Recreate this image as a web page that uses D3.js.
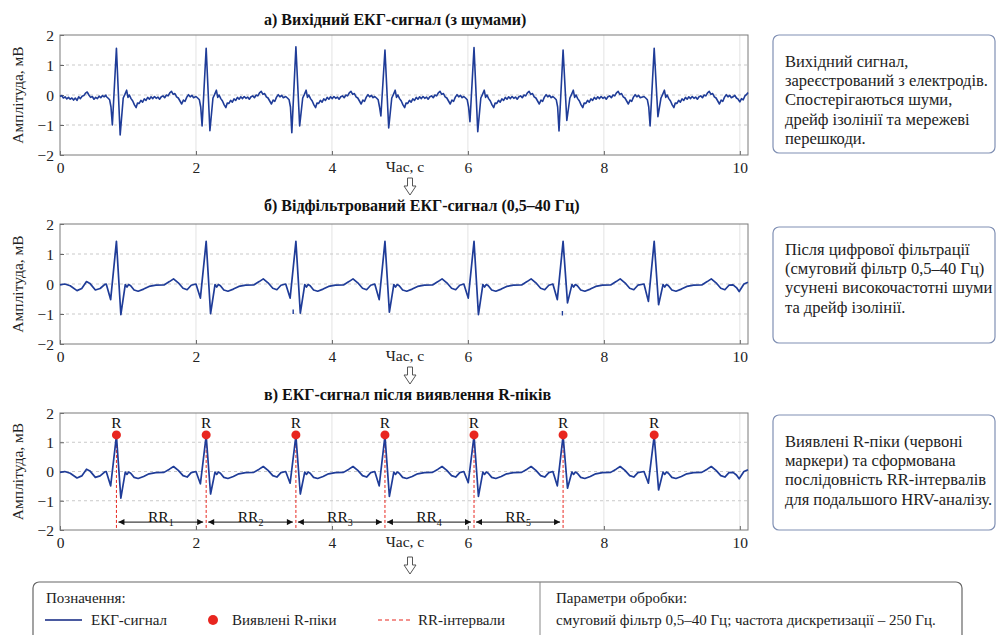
<!DOCTYPE html>
<html><head><meta charset="utf-8">
<script src="https://cdn.jsdelivr.net/npm/d3@7"></script>
<style>
html,body{margin:0;padding:0;background:#fff;}
svg{display:block;}
</style></head>
<body>
<svg id="chart" width="997" height="635"></svg>
<script>
// ---------------- DATA ----------------
const timeTicks = [0, 2, 4, 6, 8, 10];
const ampTicks = [-2, -1, 0, 1, 2];
const timeMax = 10.12;
const panelTitles = [
  "а) Вихідний ЕКГ-сигнал (з шумами)",
  "б) Відфільтрований ЕКГ-сигнал (0,5–40 Гц)",
  "в) ЕКГ-сигнал після виявлення R-піків"
];
const xLabel = "Час, с";
const yLabel = "Амплітуда, мВ";
const rPeakTimes = [0.83, 2.15, 3.47, 4.78, 6.09, 7.40, 8.74];

// raw (noisy) signal
const rawLead = [[0,-0.05],[0.025,-0.02],[0.05,-0.1],[0.075,-0.06],[0.1,-0.13],[0.125,-0.08],[0.15,-0.14],[0.175,-0.1],[0.2,-0.17],[0.225,-0.1],[0.25,-0.18],[0.275,-0.06],[0.3,-0.12],[0.325,-0.04],[0.35,-0.02],[0.375,0.06],[0.4,0.1],[0.425,0.0],[0.45,-0.08],[0.475,-0.05],[0.5,-0.14],[0.525,-0.08],[0.55,-0.12],[0.575,-0.04],[0.6,-0.09],[0.625,-0.02],[0.65,-0.06],[0.675,0.0]];
const rawBeat = [[-0.15,-0.05],[-0.125,-0.1],[-0.10,-0.16],[-0.08,-0.4],[-0.06,"Q"],[0,"R"],[0.055,"S"],[0.10,-0.1],[0.125,0.02],[0.15,0.16],[0.17,-0.08],[0.19,0.0],[0.215,-0.12],[0.24,-0.2],[0.265,-0.33],[0.29,-0.42],[0.31,-0.27],[0.335,-0.28],[0.36,-0.18],[0.385,-0.24],[0.41,-0.13],[0.435,-0.18],[0.46,-0.08],[0.485,-0.14],[0.51,-0.06],[0.535,-0.12],[0.56,-0.05],[0.585,-0.11],[0.61,-0.07],[0.635,-0.14],[0.66,-0.06],[0.685,-0.03],[0.71,-0.09],[0.735,0.0],[0.76,-0.03],[0.785,0.07],[0.81,0.12],[0.835,0.02],[0.86,0.05],[0.885,-0.06],[0.91,-0.1],[0.935,-0.2],[0.96,-0.3],[0.985,-0.17],[1.01,-0.21],[1.035,-0.07],[1.06,0.01],[1.085,-0.06],[1.11,-0.01],[1.135,-0.09]];
const rawTail = [[9.90,-0.06],[9.925,-0.01],[9.95,-0.1],[9.975,-0.14],[10.0,-0.23],[10.025,-0.12],[10.05,-0.16],[10.075,-0.03],[10.1,0.02],[10.12,0.08]];
const rawR = [1.56, 1.56, 1.61, 1.50, 1.58, 1.50, 1.56];
const rawQ = [-1.00, -1.03, -1.26, -0.70, -0.89, -1.20, -1.03];
const rawS = [-1.33, -1.19, -1.03, -1.10, -1.22, -0.85, -0.72];

// filtered signal
const filtLead = [[0,-0.03],[0.07,0.0],[0.15,-0.06],[0.25,-0.22],[0.32,-0.15],[0.39,0.08],[0.44,0.02],[0.52,-0.2],[0.59,-0.15],[0.66,-0.01]];
const filtBeat = [[-0.15,0.0],[-0.085,"Q"],[0,"R"],[0.065,"S"],[0.13,-0.02],[0.155,-0.1],[0.18,-0.02],[0.21,-0.06],[0.26,-0.2],[0.32,-0.24],[0.40,-0.17],[0.48,-0.08],[0.58,-0.04],[0.70,-0.03],[0.78,0.08],[0.84,0.17],[0.91,0.04],[0.98,-0.14],[1.04,-0.19],[1.10,-0.04]];
const filtTail = [[9.90,-0.03],[9.95,-0.12],[9.99,-0.25],[10.06,0.0],[10.12,0.06]];
const filtR = [1.42, 1.42, 1.42, 1.42, 1.42, 1.42, 1.42];
const filtQ = [-0.52, -0.47, -0.47, -0.52, -0.47, -0.52, -0.58];
const filtS = [-1.02, -0.99, -0.97, -0.94, -1.02, -0.63, -0.69];
const filtArtifacts = [[3.43, -0.85, -1.0], [7.39, -0.9, -1.05]];

// detected-peaks panel
const detR = [1.22, 1.22, 1.22, 1.22, 1.22, 1.22, 1.22];
const detQ = [-0.49, -0.42, -0.40, -0.49, -0.38, -0.49, -0.40];
const detS = [-0.91, -0.77, -0.77, -0.85, -0.85, -0.57, -0.63];
const markerAmp = [1.25, 1.25, 1.25, 1.25, 1.25, 1.25, 1.25];
const rrLabels = ["1", "2", "3", "4", "5"];
const rrArrowAmp = -1.73;
const rrLabelAmp = -1.55;

const boxTexts = [
  ["Вихідний сигнал,", "зареєстрований з електродів.", "Спостерігаються шуми,", "дрейф ізолінії та мережеві", "перешкоди."],
  ["Після цифрової фільтрації", "(смуговий фільтр 0,5–40 Гц)", "усунені високочастотні шуми", "та дрейф ізолінії."],
  ["Виявлені R-піки (червоні", "маркери) та сформована", "послідовність RR-інтервалів", "для подальшого HRV-аналізу."]
];
const legendTitle = "Позначення:";
const legendItems = ["ЕКГ-сигнал", "Виявлені R-піки", "RR-інтервали"];
const paramsTitle = "Параметри обробки:";
const paramsText = "смуговий фільтр 0,5–40 Гц; частота дискретизації – 250 Гц.";

// ---------------- STYLE / LAYOUT ----------------
const SERIF = "'Liberation Serif','Times New Roman',serif";
const lineColor = "#1f3c98";
const red = "#e8261f";
const plotLeft = 60, plotRight = 748;
const panels = [
  {top: 35, bottom: 155, titleY: 25, boxTop: 35, boxBottom: 153, textY0: 67, arrowY: 178},
  {top: 224, bottom: 344, titleY: 211, boxTop: 227, boxBottom: 343, textY0: 255, arrowY: 367},
  {top: 413, bottom: 530, titleY: 400, boxTop: 415, boxBottom: 530, textY0: 447, arrowY: 557}
];

function buildSignal(lead, beat, tail, beats) {
  const pts = lead.map(([t, v]) => ({t, v}));
  rPeakTimes.forEach((r, i) => {
    beat.forEach(([o, v]) => {
      pts.push({t: r + o, v: typeof v === "string" ? beats[v][i] : v});
    });
  });
  tail.forEach(([t, v]) => pts.push({t, v}));
  return pts;
}
const signals = [
  buildSignal(rawLead, rawBeat, rawTail, {Q: rawQ, R: rawR, S: rawS}),
  buildSignal(filtLead, filtBeat, filtTail, {Q: filtQ, R: filtR, S: filtS}),
  buildSignal(filtLead, filtBeat, filtTail, {Q: detQ, R: detR, S: detS})
];

const svg = d3.select("#chart");
const x = d3.scaleLinear().domain([0, timeMax]).range([plotLeft, plotRight]);

panels.forEach((p, pi) => {
  const y = d3.scaleLinear().domain([-2, 2]).range([p.bottom, p.top]);
  const g = svg.append("g");

  // grid
  g.selectAll(".vg").data(timeTicks.filter(d => d > 0)).join("line")
    .attr("x1", d => x(d)).attr("x2", d => x(d)).attr("y1", p.top).attr("y2", p.bottom)
    .attr("stroke", "#e3e3e3").attr("stroke-width", 1);
  g.selectAll(".hg").data([-1, 0, 1]).join("line")
    .attr("x1", plotLeft).attr("x2", plotRight).attr("y1", d => y(d)).attr("y2", d => y(d))
    .attr("stroke", "#c9c9c9").attr("stroke-width", 1).attr("stroke-dasharray", "3,3");

  // axes
  const ax = g.append("g").attr("transform", `translate(0,${p.bottom})`)
    .call(d3.axisBottom(x).tickValues(timeTicks).tickFormat(d3.format("d")).tickSize(-4).tickPadding(7));
  const ay = g.append("g").attr("transform", `translate(${plotLeft},0)`)
    .call(d3.axisLeft(y).tickValues(ampTicks).tickFormat(d3.format("d")).tickSize(-4).tickPadding(6));
  [ax, ay].forEach(a => {
    a.select(".domain").remove();
    a.selectAll("line").attr("stroke", "#666");
    a.selectAll("text").attr("font-family", SERIF).attr("font-size", 15.5).attr("fill", "#222");
  });
  ay.selectAll("text").attr("dy", "0.34em");

  // frame
  g.append("rect").attr("x", plotLeft).attr("y", p.top)
    .attr("width", plotRight - plotLeft).attr("height", p.bottom - p.top)
    .attr("fill", "none").attr("stroke", "#7a7a7a").attr("stroke-width", 1);

  // x label
  g.append("text").attr("x", 405).attr("y", p.bottom + 17).attr("text-anchor", "middle")
    .attr("font-family", SERIF).attr("font-size", 15.5).attr("fill", "#222").text(xLabel);
  // y label
  g.append("text").attr("transform", `translate(23,${(p.top + p.bottom) / 2}) rotate(-90)`)
    .attr("text-anchor", "middle").attr("font-family", SERIF).attr("font-size", 15.5)
    .attr("fill", "#222").text(yLabel);
  // title
  g.append("text").attr("x", 264).attr("y", p.titleY).attr("font-family", SERIF)
    .attr("font-size", 16).attr("font-weight", "bold").attr("fill", "#111").text(panelTitles[pi]);

  // RR dashed lines (panel c, below the signal)
  if (pi === 2) {
    g.selectAll(".rr").data(rPeakTimes.slice(0, 6)).join("line")
      .attr("x1", d => x(d)).attr("x2", d => x(d))
      .attr("y1", (d, i) => y(markerAmp[i])).attr("y2", p.bottom)
      .attr("stroke", red).attr("stroke-width", 1).attr("stroke-dasharray", "3,2");
  }

  // signal
  const line = d3.line().x(d => x(d.t)).y(d => y(d.v));
  g.append("path").datum(signals[pi]).attr("d", line)
    .attr("fill", "none").attr("stroke", lineColor)
    .attr("stroke-width", pi === 0 ? 1.6 : 1.7).attr("stroke-linejoin", "round");

  if (pi === 1) {
    g.selectAll(".art").data(filtArtifacts).join("line")
      .attr("x1", d => x(d[0])).attr("x2", d => x(d[0]))
      .attr("y1", d => y(d[1])).attr("y2", d => y(d[2]))
      .attr("stroke", lineColor).attr("stroke-width", 1.4);
  }

  if (pi === 2) {
    // markers
    g.selectAll(".mk").data(rPeakTimes).join("circle")
      .attr("cx", d => x(d)).attr("cy", (d, i) => y(markerAmp[i])).attr("r", 4.5).attr("fill", red);
    g.selectAll(".rl").data(rPeakTimes).join("text")
      .attr("x", d => x(d)).attr("y", (d, i) => y(markerAmp[i]) - 7).attr("text-anchor", "middle")
      .attr("font-family", SERIF).attr("font-size", 15.5).attr("fill", "#111").text("R");
    // RR arrows
    const defs = svg.append("defs");
    defs.append("marker").attr("id", "ah").attr("viewBox", "0 0 10 10").attr("refX", 10).attr("refY", 5)
      .attr("markerWidth", 8).attr("markerHeight", 6).attr("markerUnits", "userSpaceOnUse")
      .attr("orient", "auto-start-reverse")
      .append("path").attr("d", "M0,0 L10,5 L0,10 Z").attr("fill", "#111");
    rrLabels.forEach((lab, i) => {
      const x0 = x(rPeakTimes[i]) + 2, x1 = x(rPeakTimes[i + 1]) - 3;
      g.append("line").attr("x1", x0).attr("x2", x1).attr("y1", y(rrArrowAmp)).attr("y2", y(rrArrowAmp))
        .attr("stroke", "#111").attr("stroke-width", 1)
        .attr("marker-start", "url(#ah)").attr("marker-end", "url(#ah)");
      const t = g.append("text").attr("x", (x0 + x1) / 2).attr("y", y(rrLabelAmp) + 5)
        .attr("text-anchor", "middle").attr("font-family", SERIF).attr("font-size", 15.5).attr("fill", "#111");
      t.append("tspan").text("RR");
      t.append("tspan").attr("font-size", 10).attr("dy", 4).text(lab);
    });
  }

  // right text box
  svg.append("rect").attr("x", 773).attr("y", p.boxTop).attr("width", 222)
    .attr("height", p.boxBottom - p.boxTop).attr("rx", 6)
    .attr("fill", "#fff").attr("stroke", "#8090b4").attr("stroke-width", 1.2);
  boxTexts[pi].forEach((s, li) => {
    svg.append("text").attr("x", 785).attr("y", p.textY0 + li * 19.2)
      .attr("font-family", SERIF).attr("font-size", 16.5).attr("fill", "#222").text(s);
  });

  // hollow down arrow
  const ay0 = p.arrowY, cx = 410;
  svg.append("path")
    .attr("d", `M${cx-2.5},${ay0} L${cx+2.5},${ay0} L${cx+2.5},${ay0+8} L${cx+6},${ay0+8} L${cx},${ay0+17} L${cx-6},${ay0+8} L${cx-2.5},${ay0+8} Z`)
    .attr("fill", "#fff").attr("stroke", "#555").attr("stroke-width", 1);
});

// ---------------- LEGEND ----------------
const lg = svg.append("g");
lg.append("rect").attr("x", 33).attr("y", 582).attr("width", 929).attr("height", 70).attr("rx", 6)
  .attr("fill", "#fff").attr("stroke", "#666").attr("stroke-width", 1.2);
lg.append("line").attr("x1", 540).attr("x2", 540).attr("y1", 582).attr("y2", 635)
  .attr("stroke", "#888").attr("stroke-width", 1);
const ltxt = (xx, yy, s) => lg.append("text").attr("x", xx).attr("y", yy).attr("font-family", SERIF)
  .attr("font-size", 15).attr("fill", "#222").text(s);
ltxt(46, 603, legendTitle);
lg.append("line").attr("x1", 45).attr("x2", 82).attr("y1", 620).attr("y2", 620)
  .attr("stroke", "#4a5aa0").attr("stroke-width", 2);
ltxt(91, 625, legendItems[0]);
lg.append("circle").attr("cx", 213).attr("cy", 620).attr("r", 5).attr("fill", red);
ltxt(232, 625, legendItems[1]);
lg.append("line").attr("x1", 378).attr("x2", 412).attr("y1", 620).attr("y2", 620)
  .attr("stroke", red).attr("stroke-width", 1.2).attr("stroke-dasharray", "4,3");
ltxt(418, 625, legendItems[2]);
ltxt(556, 603, paramsTitle);
ltxt(556, 625, paramsText);
</script>
</body></html>
